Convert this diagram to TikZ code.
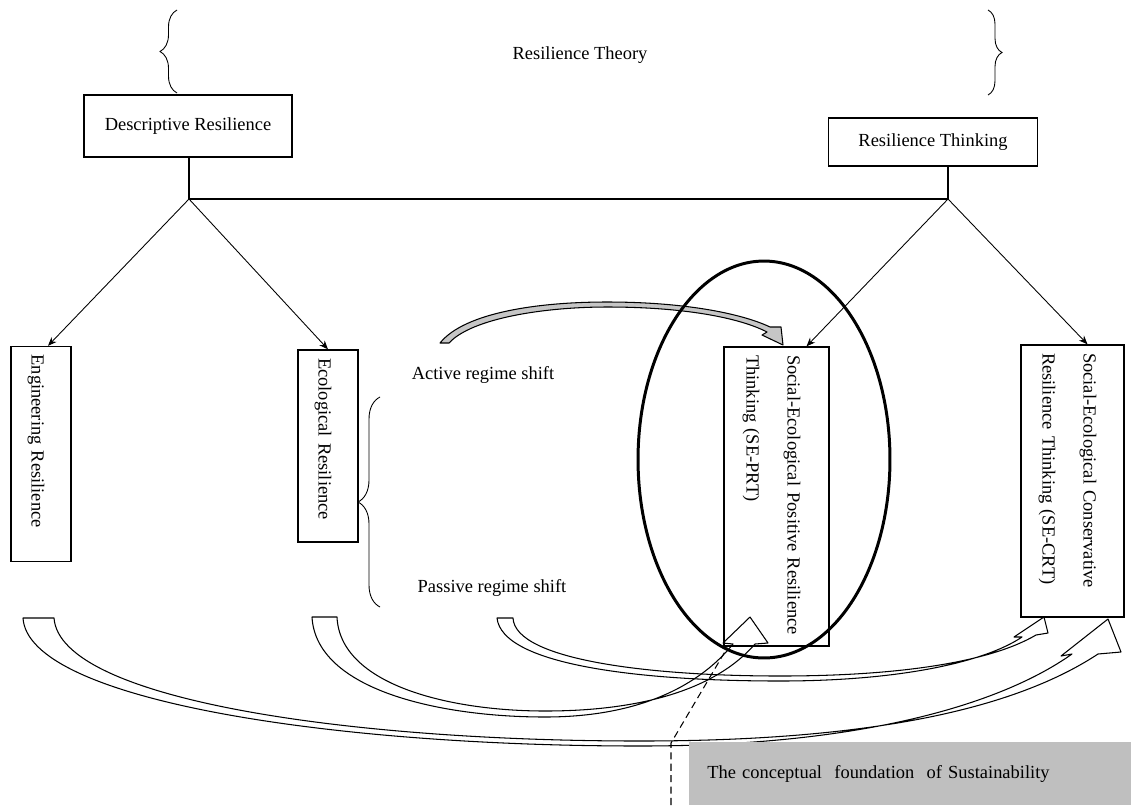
\documentclass[tikz,border=0pt]{standalone}
\usepackage{fontspec}
\setmainfont{Liberation Serif}
\usepackage{tikz}
\usetikzlibrary{arrows.meta,positioning,calc,decorations.pathreplacing}

\begin{document}
\begin{tikzpicture}[
  x=0.02cm, y=-0.02cm,
  font=\fontsize{10.5}{12.6}\selectfont,
  hbox/.style={draw, line width=0.8pt, inner sep=0pt, align=center},
  vbox/.style={draw, line width=0.8pt, rotate=-90, inner xsep=0.16cm,
    inner ysep=0pt, align=left, text height=13pt,
    font=\fontsize{10.5}{23.3}\selectfont},
  lbl/.style={inner sep=1pt},
  link/.style={line width=0.8pt},
  arr/.style={-{Stealth[length=5pt,width=4pt]}, line width=0.5pt},
  curly/.style={decorate, decoration={brace, amplitude=#1}, line width=0.5pt},
  band/.style={line width=0.6pt, line join=round},
  ring/.style={line width=1.7pt},
  found/.style={fill=gray!50, anchor=north west, minimum width=8.84cm,
    minimum height=1.26cm, text width=8.12cm, inner xsep=0.36cm, align=left}
]
  \useasboundingbox (0,0) rectangle (1131,805);

  % Title and braces
  \draw[curly=0.34cm] (177,93) -- (177,10);
  \draw[curly=0.28cm] (988,10) -- (988,95);
  \node[lbl] (theory) at (580,55) {Resilience Theory};

  % Two main branches
  \node[hbox, minimum width=4.16cm, minimum height=1.24cm] (desc) at (188,126)
    {Descriptive Resilience};
  \node[hbox, minimum width=4.18cm, minimum height=0.96cm] (think) at (933,142)
    {Resilience Thinking};

  \coordinate (jl) at (189,199);
  \coordinate (jr) at (948,199);
  \draw[link] (desc.south -| jl) -- (jl) -- (jr) -- (think.south -| jr);

  % Sub boxes (vertical text)
  \node[vbox, text width=3.98cm, minimum height=1.2cm] (eng) at (41,454)
    {Engineering Resilience};
  \node[vbox, text width=3.52cm, minimum height=1.2cm] (eco) at (328,446)
    {Ecological Resilience};
  \node[vbox, text width=5.66cm, minimum height=2.1cm] (seprt) at (776.5,496.5)
    {Social-Ecological Positive Resilience\\Thinking (SE-PRT)};
  \node[vbox, text width=5.12cm, minimum height=2.06cm] (secrt) at (1072.5,481)
    {\makebox[4.8cm][s]{Social-Ecological Conservative}\\Resilience Thinking (SE-CRT)};

  \draw[arr] (jl) -- ($(eng.west)+(7,0)$);
  \draw[arr] (jl) -- (eco.west);
  \draw[arr] (jr) -- ($(seprt.west)+(30,0)$);
  \draw[arr] (jr) -- ($(secrt.west)+(15,0)$);

  % Regime shifts
  \node[lbl] (active) at (483,375) {Active regime shift};
  \node[lbl] (passive) at (492,588) {Passive regime shift};
  \draw[curly=0.44cm] (380,607) -- (380,397);

  \coordinate (acttail) at (444,343);
  \filldraw[band, fill=gray!45] (440,343) .. controls (465,312) and (540,302) .. (607,302)
    .. controls (690,302) and (745,315) .. (770,327)
    -- (781,327) -- (783,345) -- (762,335) -- (767,332)
    .. controls (740,318) and (685,307) .. (607,307)
    .. controls (545,307) and (472,318) .. (449,343) -- cycle;

  % Curved block arrows
  \draw[band] (23,618) .. controls (28,700) and (330,746) .. (640,746)
    .. controls (860,746) and (1000,705) .. (1072,654)
    -- (1061,656) -- (1108,619) -- (1121,652) -- (1098,654)
    .. controls (1010,712) and (860,741) .. (640,741)
    .. controls (350,741) and (60,700) .. (54,618) -- cycle;
  \draw[band] (312,617) .. controls (316,690) and (440,717) .. (545,717)
    .. controls (640,717) and (700,685) .. (733,644)
    -- (723,643) -- (750,617) -- (768,643) -- (755,644)
    .. controls (715,690) and (640,711) .. (545,711)
    .. controls (450,711) and (340,685) .. (337,617) -- cycle;
  \draw[band] (497,618) .. controls (502,665) and (640,681) .. (780,681)
    .. controls (900,681) and (985,662) .. (1022,637)
    -- (1014,637) -- (1044,617) -- (1048,633) -- (1036,635)
    .. controls (990,662) and (900,676) .. (780,676)
    .. controls (650,676) and (515,660) .. (513,618) -- cycle;

  % Sustainability foundation
  \node[found] (found) at (689,742)
    {The conceptual\ \ foundation\ \ of Sustainability};
  \coordinate (dashfoot) at (671,805);
  \draw[dashed, dash pattern=on 4pt off 2.5pt, line width=0.6pt]
    (dashfoot) -- (671,743) -- ($(seprt.south east)+(4,1)$);

  % Highlight ring
  \draw[ring] (764,459.5) ellipse [x radius=2.52cm, y radius=3.97cm];
\end{tikzpicture}
\end{document}
